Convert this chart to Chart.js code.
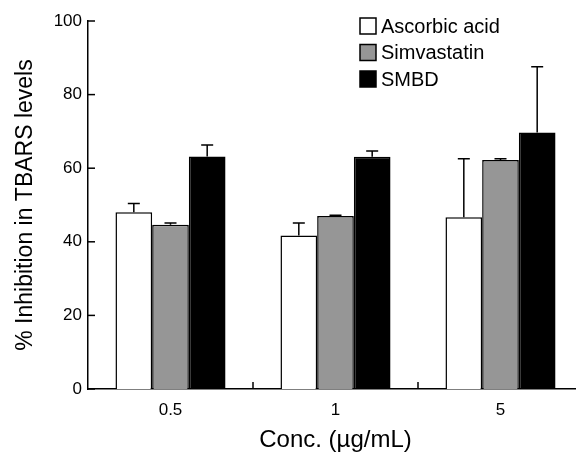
<!DOCTYPE html>
<html>
<head>
<meta charset="utf-8">
<script src="https://cdn.jsdelivr.net/npm/chart.js@4/dist/chart.umd.min.js"></script>
<style>
  html, body { margin: 0; padding: 0; background: #fff; overflow: hidden; }
  #wrap { width: 590px; height: 452px; position: relative; }
</style>
</head>
<body>
<div id="wrap"><canvas id="chart"></canvas></div>
<script>
// concentrations on the x axis
const concLabels = ['0.5', '1', '5'];

// mean % inhibition per treatment
const ascorbicAcid = [48.0, 41.7, 46.7];
const simvastatin  = [44.6, 47.0, 62.2];
const smbd         = [63.2, 63.1, 69.7];

// upper error bar (SD) per treatment
const ascorbicErr    = [2.4, 3.4, 15.9];
const simvastatinErr = [0.5, 0.2, 0.4];
const smbdErr        = [3.1, 1.6, 17.9];

const yTicks = [0, 20, 40, 60, 80, 100];

const FONT = "'Liberation Sans', Arial, sans-serif";

// error bars, inward tick marks and the boxed legend
const extras = {
    id: 'extras',
    afterDatasetsDraw(chart) {
        const ctx = chart.ctx;
        const x = chart.scales.x, y = chart.scales.y;
        const area = chart.chartArea;
        ctx.save();
        ctx.strokeStyle = '#000';
        ctx.lineWidth = 1.5;

        // error bars (upward only)
        chart.data.datasets.forEach((ds, di) => {
            const meta = chart.getDatasetMeta(di);
            meta.data.forEach((bar, i) => {
                const top = y.getPixelForValue(ds.data[i] + ds.err[i]);
                ctx.beginPath();
                ctx.moveTo(bar.x, bar.y);
                ctx.lineTo(bar.x, top);
                ctx.moveTo(bar.x - 6, top);
                ctx.lineTo(bar.x + 6, top);
                ctx.stroke();
            });
        });

        // y ticks pointing into the plot
        yTicks.forEach(v => {
            const py = y.getPixelForValue(v);
            ctx.beginPath();
            ctx.moveTo(area.left, py);
            ctx.lineTo(area.left + 7, py);
            ctx.stroke();
        });

        // x ticks at category boundaries
        for (let i = 1; i < concLabels.length; i++) {
            const px = (x.getPixelForValue(i - 1) + x.getPixelForValue(i)) / 2;
            ctx.beginPath();
            ctx.moveTo(px, area.bottom);
            ctx.lineTo(px, area.bottom - 7);
            ctx.stroke();
        }

        // legend
        ctx.font = '20px ' + FONT;
        ctx.textBaseline = 'middle';
        ctx.textAlign = 'left';
        chart.data.datasets.forEach((ds, di) => {
            const cy = 26 + di * 26.5;
            ctx.fillStyle = ds.backgroundColor;
            ctx.fillRect(360, cy - 8, 16, 16);
            ctx.strokeRect(360, cy - 8, 16, 16);
            ctx.fillStyle = '#000';
            ctx.fillText(ds.label, 381, cy + 1);
        });
        ctx.restore();
    }
};

new Chart(document.getElementById('chart'), {
    type: 'bar',
    data: {
        labels: concLabels,
        datasets: [
            { label: 'Ascorbic acid', data: ascorbicAcid, err: ascorbicErr, backgroundColor: '#ffffff' },
            { label: 'Simvastatin', data: simvastatin, err: simvastatinErr, backgroundColor: '#969696' },
            { label: 'SMBD', data: smbd, err: smbdErr, backgroundColor: '#000000' }
        ]
    },
    options: {
        responsive: true,
        maintainAspectRatio: false,
        animation: false,
        layout: { padding: { left: 0, top: 21, right: 7, bottom: 0 } },
        datasets: {
            bar: {
                borderColor: '#000',
                borderWidth: 1.5,
                borderSkipped: 'bottom',
                categoryPercentage: 0.667,
                barPercentage: 1.0
            }
        },
        plugins: {
            legend: { display: false },
            tooltip: { enabled: false }
        },
        scales: {
            x: {
                grid: { display: false, drawTicks: false },
                border: { display: true, color: '#000', width: 1.5 },
                ticks: { color: '#000', font: { family: FONT, size: 17 }, padding: 11 },
                title: {
                    display: true,
                    text: 'Conc. (µg/mL)',
                    color: '#000',
                    font: { family: FONT, size: 24 },
                    padding: { top: 0, bottom: -3 }
                },
                afterFit(scale) { scale.height = 63; }
            },
            y: {
                min: 0,
                max: 100,
                grid: { display: false, drawTicks: false },
                border: { display: true, color: '#000', width: 1.5 },
                ticks: { stepSize: 20, color: '#000', font: { family: FONT, size: 17 }, padding: 6 },
                title: {
                    display: true,
                    text: '% Inhibition in TBARS levels',
                    color: '#000',
                    font: { family: FONT, size: 23 },
                    padding: { top: 12, bottom: 0 }
                },
                afterFit(scale) { scale.width = 88; }
            }
        }
    },
    plugins: [extras]
});
</script>
</body>
</html>
